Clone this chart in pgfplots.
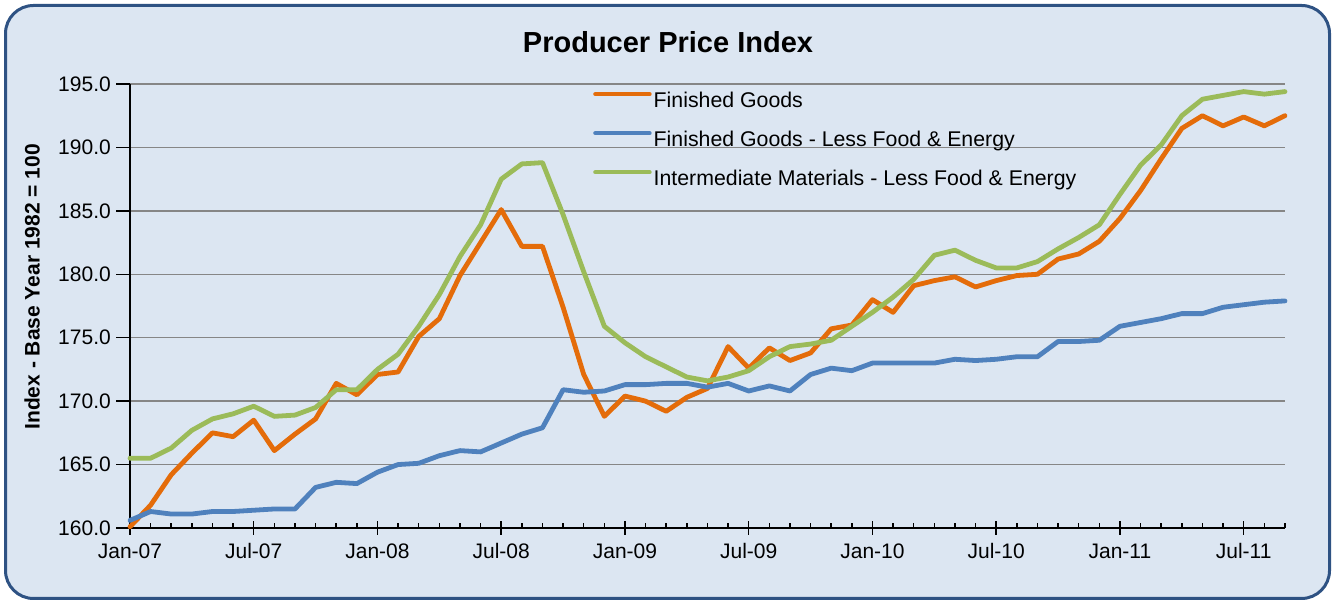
\documentclass[border=0pt]{standalone}
\usepackage{pgfplots}
\pgfplotsset{compat=1.18}
\usepackage{pgfplotstable}
\usepackage{fontspec}
\setmainfont{Liberation Sans}
\definecolor{bgc}{HTML}{DCE6F2}
\definecolor{framec}{HTML}{2E5283}
\definecolor{fgc}{HTML}{E46C0A}
\definecolor{cgc}{HTML}{4F81BD}
\definecolor{imc}{HTML}{9BBB59}
\definecolor{gridc}{HTML}{868686}

\pgfplotstableread{
m v
0 160.1
1 161.8
2 164.2
3 165.9
4 167.5
5 167.2
6 168.5
7 166.1
8 167.4
9 168.6
10 171.4
11 170.5
12 172.1
13 172.3
14 175.1
15 176.5
16 179.9
17 182.5
18 185.1
19 182.2
20 182.2
21 177.4
22 172.1
23 168.8
24 170.4
25 170.0
26 169.2
27 170.3
28 171.0
29 174.3
30 172.6
31 174.2
32 173.2
33 173.8
34 175.7
35 176.0
36 178.0
37 177.0
38 179.1
39 179.5
40 179.8
41 179.0
42 179.5
43 179.9
44 180.0
45 181.2
46 181.6
47 182.6
48 184.4
49 186.6
50 189.1
51 191.5
52 192.5
53 191.7
54 192.4
55 191.7
56 192.5
}\finished

\pgfplotstableread{
m v
0 160.6
1 161.3
2 161.1
3 161.1
4 161.3
5 161.3
6 161.4
7 161.5
8 161.5
9 163.2
10 163.6
11 163.5
12 164.4
13 165.0
14 165.1
15 165.7
16 166.1
17 166.0
18 166.7
19 167.4
20 167.9
21 170.9
22 170.7
23 170.8
24 171.3
25 171.3
26 171.4
27 171.4
28 171.1
29 171.4
30 170.8
31 171.2
32 170.8
33 172.1
34 172.6
35 172.4
36 173.0
37 173.0
38 173.0
39 173.0
40 173.3
41 173.2
42 173.3
43 173.5
44 173.5
45 174.7
46 174.7
47 174.8
48 175.9
49 176.2
50 176.5
51 176.9
52 176.9
53 177.4
54 177.6
55 177.8
56 177.9
}\core

\pgfplotstableread{
m v
0 165.5
1 165.5
2 166.3
3 167.7
4 168.6
5 169.0
6 169.6
7 168.8
8 168.9
9 169.5
10 170.9
11 170.9
12 172.5
13 173.7
14 175.9
15 178.4
16 181.4
17 183.9
18 187.5
19 188.7
20 188.8
21 184.7
22 180.2
23 175.9
24 174.6
25 173.5
26 172.7
27 171.9
28 171.6
29 171.9
30 172.4
31 173.5
32 174.3
33 174.5
34 174.8
35 175.9
36 177.0
37 178.2
38 179.6
39 181.5
40 181.9
41 181.1
42 180.5
43 180.5
44 181.0
45 182.0
46 182.9
47 183.9
48 186.3
49 188.6
50 190.2
51 192.5
52 193.8
53 194.1
54 194.4
55 194.2
56 194.4
}\inter

\begin{document}
\begin{tikzpicture}
\useasboundingbox (0,0) rectangle (1332pt,601pt);
\draw[framec, line width=3pt, fill=bgc, rounded corners=28pt] (5.5pt,2.5pt) rectangle (1329.5pt,595.5pt);
\node[anchor=base, font=\fontsize{29}{34}\selectfont\bfseries] at (668pt,548pt) {Producer Price Index};
\begin{axis}[
  at={(130pt,73pt)}, anchor=south west,
  scale only axis, width=1155pt, height=444pt,
  xmin=0, xmax=56, ymin=160, ymax=195,
  axis x line=bottom, axis y line=left,
  axis line style={-, black, line width=2pt},
  xtick={0,6,...,54},
  xticklabels={Jan-07,Jul-07,Jan-08,Jul-08,Jan-09,Jul-09,Jan-10,Jul-10,Jan-11,Jul-11},
  minor xtick={0,1,...,56},
  ytick={160,165,...,195},
  xtick align=center, ytick align=outside,
  major tick length=14pt, minor tick length=5pt,
  every tick/.style={black, line width=1.5pt},
  minor x tick style={yshift=2.5pt},
  ymajorgrids, grid style={gridc, line width=1.4pt},
  /pgf/number format/fixed,
  /pgf/number format/fixed zerofill,
  /pgf/number format/precision=1,
  /pgf/number format/assume math mode=true,
  yticklabel style={font=\fontsize{21}{25}\selectfont, anchor=east, inner sep=0pt, xshift=-5pt},
  xticklabel style={font=\fontsize{21}{25}\selectfont, anchor=north, inner sep=0pt, text height=15pt, text depth=4pt, yshift=-8pt},
  ylabel={Index - Base Year 1982 = 100},
  every axis y label/.style={at={(axis description cs:-0.0848,0.543)}, rotate=90, anchor=center,
    font=\fontsize{21}{25}\selectfont\bfseries},
  legend cell align=left,
  legend style={draw=none, fill=none, at={(axis description cs:0.4009,0.9827)}, anchor=north west,
    inner sep=0pt, row sep=19.8pt, column sep=2pt,
    nodes={inner sep=0pt, text height=15pt, text depth=4pt},
    font=\fontsize{21.3}{25}\selectfont},
  legend image code/.code={\draw[#1, line width=4.5pt, line cap=round] (0pt,7.5pt) -- (54pt,7.5pt);},
  clip=false,
]
\addplot[fgc, line width=4.8pt, line join=round, line cap=round] table[x=m,y=v] {\finished};
\addlegendentry{Finished Goods}
\addplot[cgc, line width=4.8pt, line join=round, line cap=round] table[x=m,y=v] {\core};
\addlegendentry{Finished Goods - Less Food \& Energy}
\addplot[imc, line width=4.8pt, line join=round, line cap=round] table[x=m,y=v] {\inter};
\addlegendentry{Intermediate Materials - Less Food \& Energy}
\end{axis}
\end{tikzpicture}
\end{document}
